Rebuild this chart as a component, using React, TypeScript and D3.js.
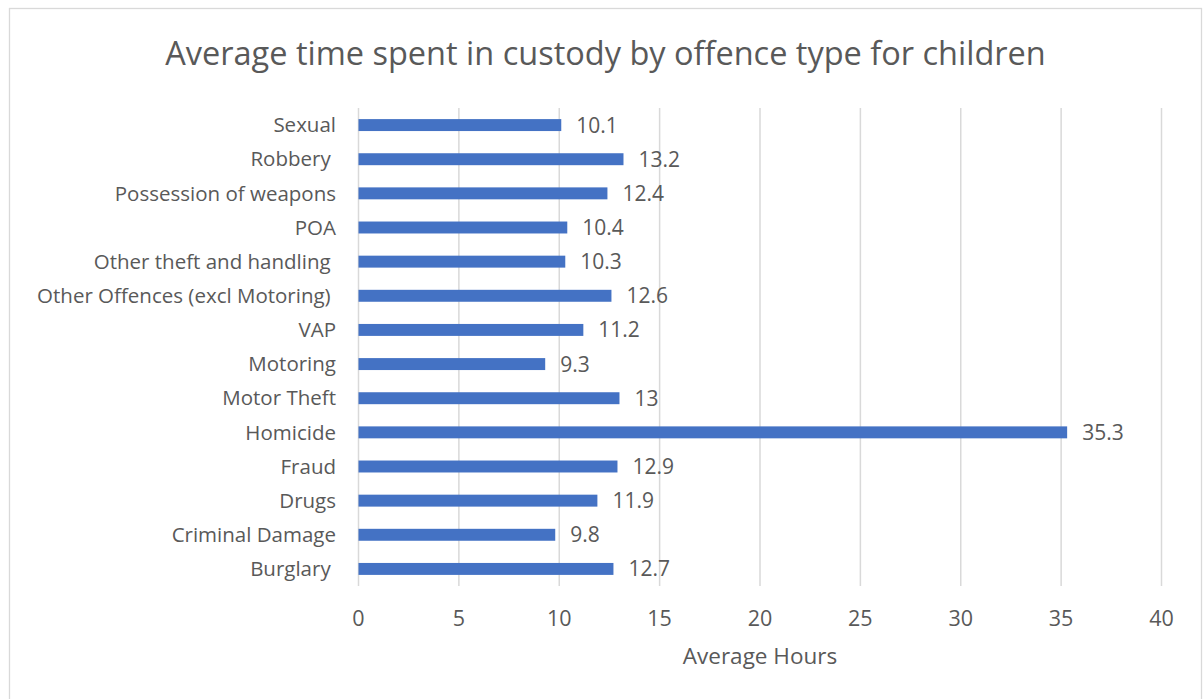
import React from "react";
import * as d3 from "d3";

const categories = [
  "Sexual",
  "Robbery ",
  "Possession of weapons",
  "POA",
  "Other theft and handling ",
  "Other Offences (excl Motoring) ",
  "VAP",
  "Motoring",
  "Motor Theft",
  "Homicide",
  "Fraud",
  "Drugs",
  "Criminal Damage",
  "Burglary ",
];
const values = [10.1, 13.2, 12.4, 10.4, 10.3, 12.6, 11.2, 9.3, 13, 35.3, 12.9, 11.9, 9.8, 12.7];
const valueLabels = ["10.1", "13.2", "12.4", "10.4", "10.3", "12.6", "11.2", "9.3", "13", "35.3", "12.9", "11.9", "9.8", "12.7"];
const xTicks = [0, 5, 10, 15, 20, 25, 30, 35, 40];
const title = "Average time spent in custody by offence type for children";
const xTitle = "Average Hours";

const W = 1203;
const H = 699;
const FONT = "'Open Sans', sans-serif";
const TEXT = "#595959";
const GRID = "#D9D9D9";
const BAR = "#4472C4";

export default function App() {
  const plotLeft = 358.5;
  const plotRight = 1161.5;
  const plotTop = 108;
  const plotBottom = 586;
  const x = d3.scaleLinear().domain([0, 40]).range([plotLeft, plotRight]);
  const y = d3
    .scaleBand<string>()
    .domain(categories.map((c, i) => String(i)))
    .range([plotTop, plotBottom])
    .paddingInner(0.65)
    .paddingOuter(0.325);
  const bw = y.bandwidth();

  return (
    <svg
      width={W}
      height={H}
      style={{ position: "absolute", left: 0, top: 0, display: "block" }}
    >
      <rect x={0} y={0} width={W} height={H} fill="#fff" />
      <rect x={9.5} y={8.5} width={1192} height={700} fill="#fff" stroke={GRID} strokeWidth={1.3} />
      <text
        x={605.5}
        y={65}
        textAnchor="middle"
        fontFamily={FONT}
        fontSize={32.5}
        fill={TEXT}
      >
        {title}
      </text>
      {xTicks.map((t) => (
        <g key={t}>
          <line
            x1={x(t)}
            x2={x(t)}
            y1={plotTop}
            y2={plotBottom}
            stroke={GRID}
            strokeWidth={1.5}
          />
          <text
            x={x(t)}
            y={626}
            textAnchor="middle"
            fontFamily={FONT}
            fontSize={21.5}
            fill={TEXT}
          >
            {t}
          </text>
        </g>
      ))}
      {categories.map((c, i) => {
        const yy = y(String(i))!;
        return (
          <g key={i}>
            <rect x={x(0)} y={yy} width={x(values[i]) - x(0)} height={bw} fill={BAR} />
            <text
              x={336}
              y={yy + bw / 2}
              dy="0.35em"
              textAnchor="end"
              fontFamily={FONT}
              fontSize={20.5}
              fill={TEXT}
              style={{ whiteSpace: "pre" }}
            >
              {c}
            </text>
            <text
              x={x(values[i]) + 15}
              y={yy + bw / 2}
              dy="0.36em"
              textAnchor="start"
              fontFamily={FONT}
              fontSize={21}
              fill={TEXT}
            >
              {valueLabels[i]}
            </text>
          </g>
        );
      })}
      <text
        x={(plotLeft + plotRight) / 2}
        y={664}
        textAnchor="middle"
        fontFamily={FONT}
        fontSize={22.5}
        fill={TEXT}
      >
        {xTitle}
      </text>
    </svg>
  );
}
